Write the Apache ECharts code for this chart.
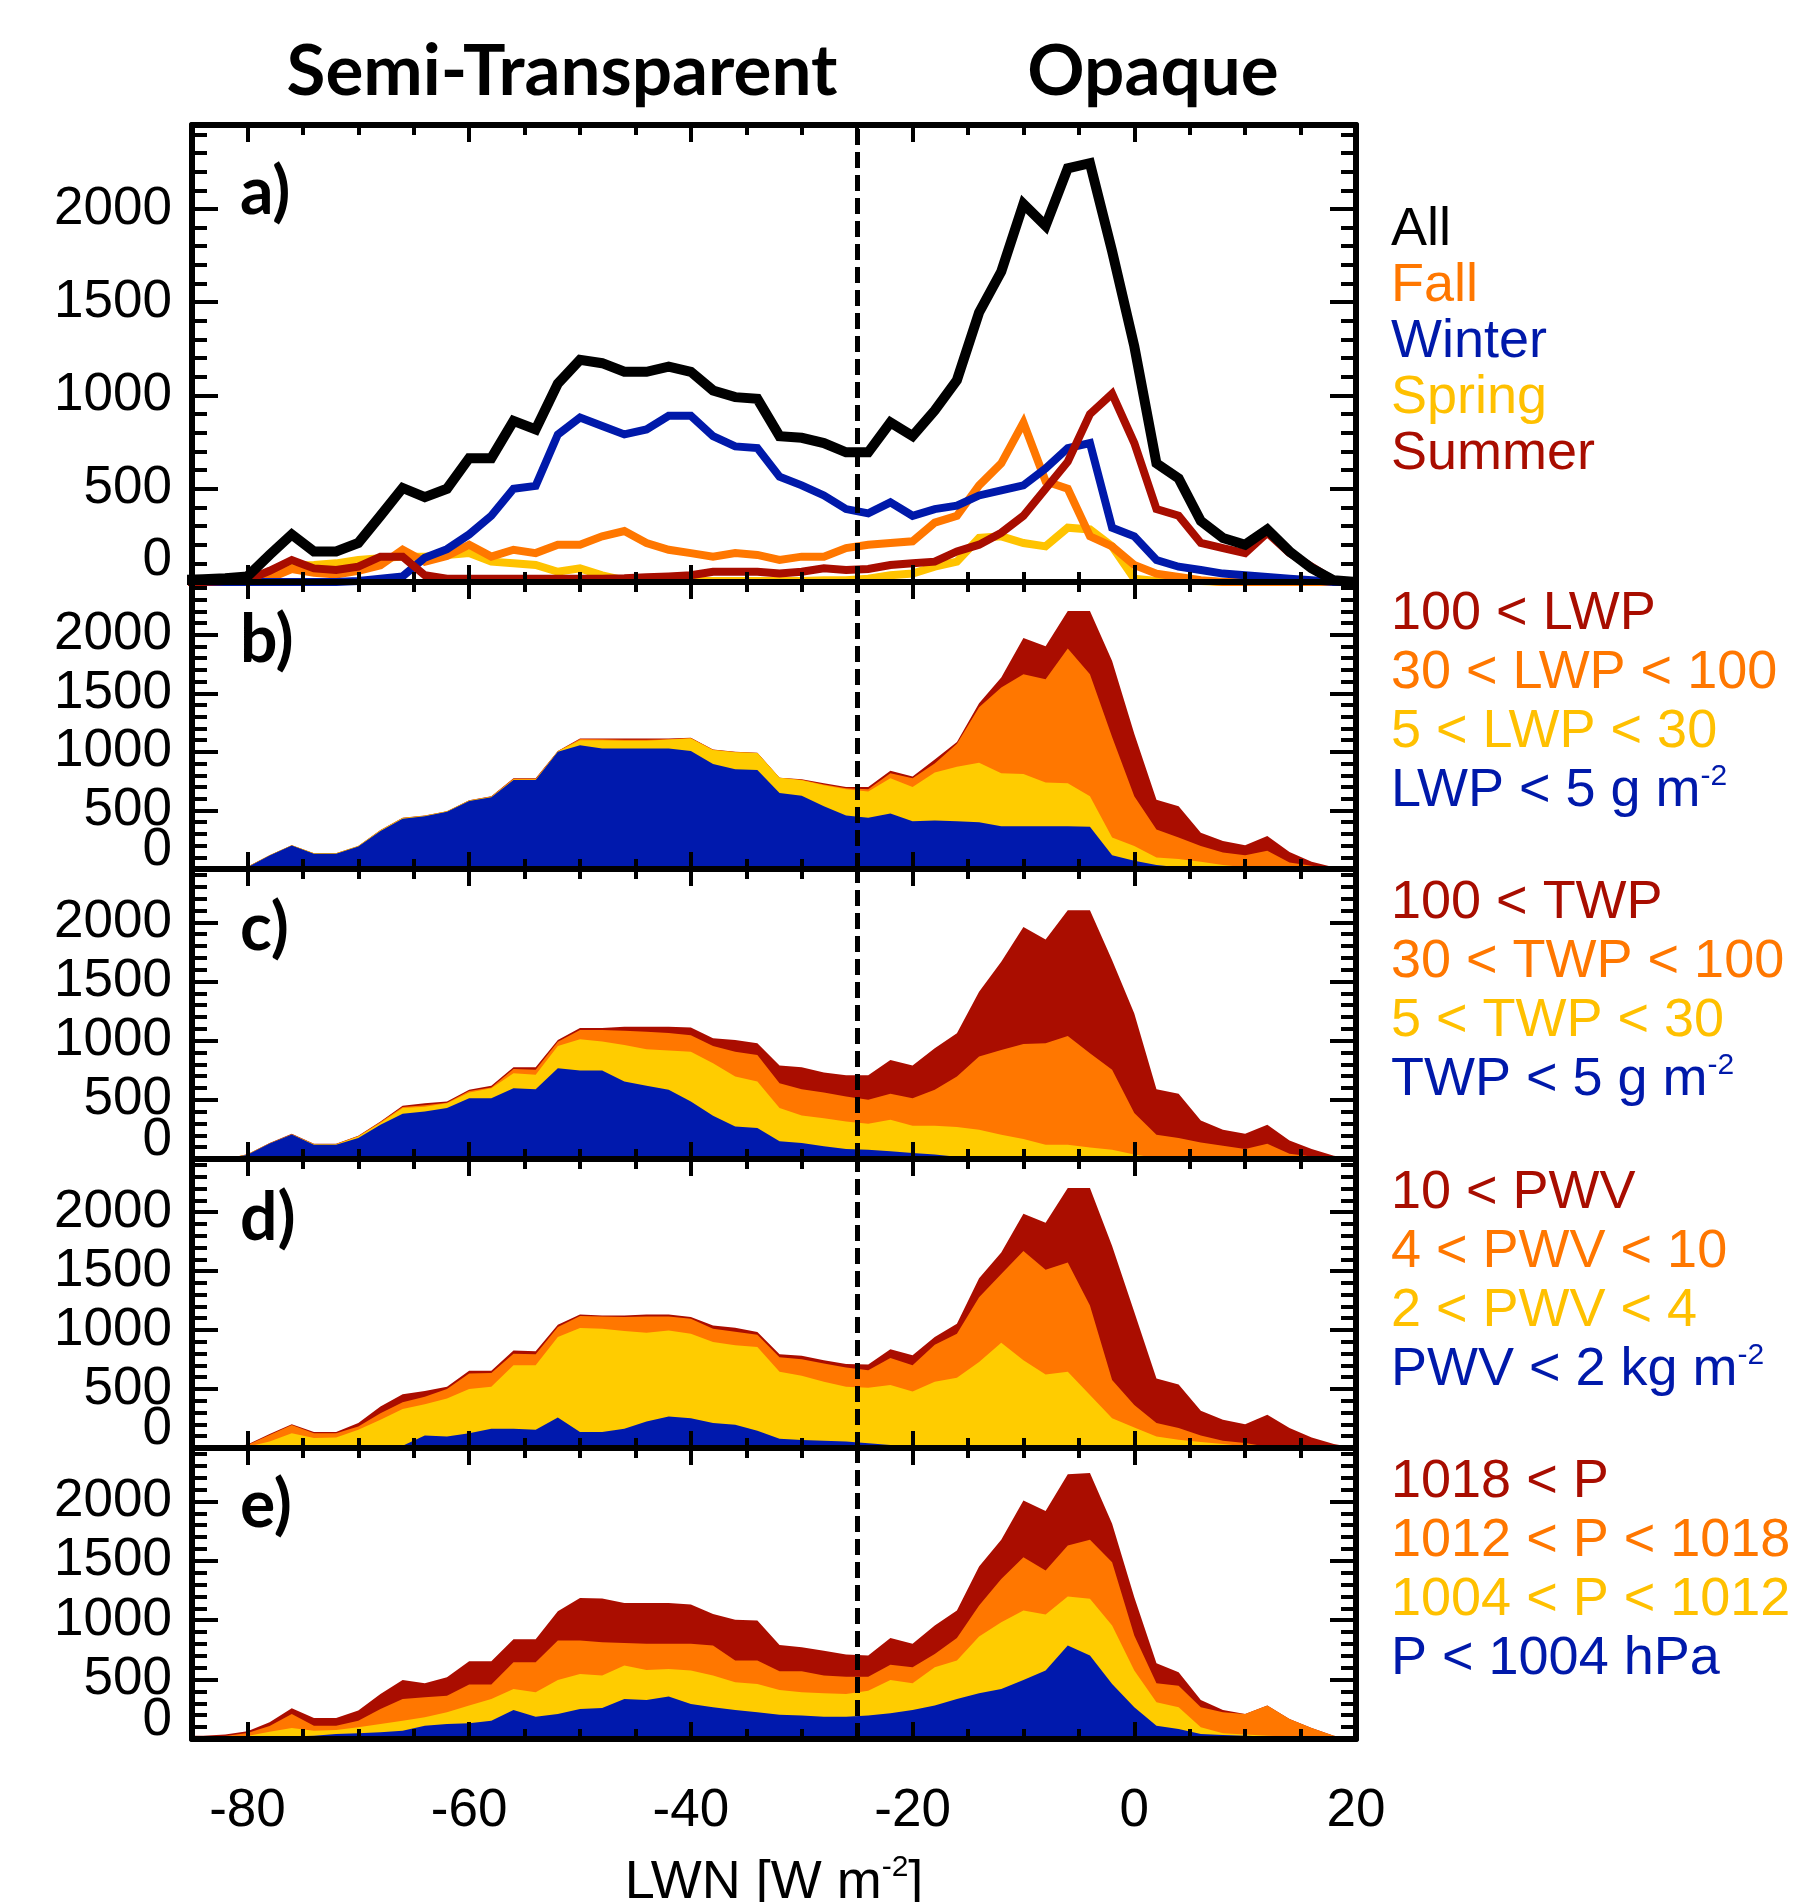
<!DOCTYPE html>
<html><head><meta charset="utf-8">
<script src="https://cdn.jsdelivr.net/npm/echarts@6/dist/echarts.min.js"></script>
<style>html,body{margin:0;padding:0;background:#fff}#c{width:1806px;height:1902px}</style>
</head><body><div id="c"></div>
<script>
// ---------- data (counts per 2 W m-2 LWN bin) ----------
const lwn = [-86,-84,-82,-80,-78,-76,-74,-72,-70,-68,-66,-64,-62,-60,-58,-56,-54,-52,-50,-48,
  -46,-44,-42,-40,-38,-36,-34,-32,-30,-28,-26,-24,-22,-20,-18,-16,-14,-12,-10,-8,
  -6,-4,-2,0,2,4,6,8,10,12,14,16,18,20];

// panel a: seasonal histograms
const allCounts = [10,15,20,30,145,255,164,164,209,355, 504,455,500,664,664,864,818,1064,1191,1173,
  1127,1127,1155,1127,1027,991,982,782,773,745, 695,695,855,782,920,1082,1445,1664,2027,1909,
  2218,2245,1773,1264,636,555,327,236,200,282, 164,73,9,0];
const fallCounts = [0,0,0,5,20,70,50,40,60,90, 173,109,140,200,136,173,155,200,200,245,
  273,209,173,155,136,155,145,118,136,136, 182,200,209,218,318,355,518,636,855,540,
  500,245,191,91,45,27,9,0,0,0, 0,0,0,0];
const winterCounts = [0,0,0,0,0,0,0,0,5,18, 30,130,176,255,355,500,515,791,882,836,
  791,818,891,891,782,727,718,564,518,464, 391,368,427,355,391,409,464,491,518,609,
  718,745,291,245,118,82,64,45,36,27, 18,9,0,0];
const springCounts = [0,0,0,5,40,90,91,100,118,127, 136,136,145,155,109,100,91,55,73,36,
  9,18,10,5,5,5,5,5,5,10, 10,18,36,45,82,109,236,245,209,191,
  291,282,191,18,5,5,5,0,0,0, 0,0,0,0];
const summerCounts = [0,0,5,10,60,118,73,64,82,136, 136,36,18,18,18,18,18,18,18,18,
  20,25,30,36,55,55,55,45,55,73, 64,70,91,100,109,164,200,264,355,500,
  645,900,1009,745,391,355,209,182,155,264, 155,82,9,0];

// panel b: cumulative counts (top of each LWP class, stacked from the bottom)
const lwpGt100Top = [0,0,0,20,118,203,135,135,197,332, 437,456,493,586,620,775,775,1008,1113,1113,
  1113,1113,1113,1121,1020,1000,992,780,766,732, 699,699,839,789,935,1085,1414,1634,1972,1901,
  2203,2203,1775,1155,592,535,310,239,203,282, 146,62,14,0];
const lwp30to100Top = [0,0,0,19,117,202,134,134,196,331, 436,455,492,585,618,770,770,1006,1110,1108,
  1104,1104,1108,1118,1018,998,990,779,762,722, 690,680,817,775,901,1070,1380,1549,1662,1620,
  1882,1662,1127,620,338,268,197,141,118,155, 56,28,5,0];
const lwp5to30Top = [0,0,0,18,117,202,134,134,196,330, 435,455,492,584,616,765,765,1005,1099,1099,
  1095,1095,1105,1115,1015,997,990,778,758,715, 680,662,775,699,823,873,907,817,811,738,
  732,620,268,197,99,85,62,34,14,5, 0,0,0,0];
const lwpLt5Top = [0,0,0,15,115,200,130,130,192,325, 430,450,488,580,612,760,760,1000,1056,1028,
  1028,1028,1028,1008,896,851,845,648,625,535, 456,437,473,408,414,408,400,366,366,366,
  366,361,118,70,34,14,0,0,0,0, 0,0,0,0];

// panel c: TWP classes
const twpGt100Top = [0,0,0,40,135,213,129,129,197,317, 449,472,486,584,618,775,775,1006,1107,1107,
  1118,1118,1118,1110,1020,1006,978,789,775,730, 708,708,837,789,935,1062,1413,1666,1961,1854,
  2101,2101,1680,1230,590,551,326,247,213,289, 157,84,28,0];
const twp30to100Top = [0,0,0,40,133,210,127,127,195,312, 440,455,475,575,605,760,755,990,1090,1090,
  1084,1076,1065,1045,955,907,879,640,590,562, 528,500,551,514,584,697,865,921,972,978,
  1039,893,753,388,205,177,140,112,84,129, 45,22,0,0];
const twp5to30Top = [0,0,0,38,132,208,125,125,190,305, 430,441,470,562,598,725,711,955,1011,992,
  963,927,916,907,809,697,654,430,368,345, 317,298,331,281,281,270,247,205,169,121,
  121,98,79,37,8,0,0,0,0,0, 0,0,0,0];
const twpLt5Top = [0,0,0,35,130,207,121,121,177,289, 382,402,430,514,514,598,590,767,747,747,
  654,618,584,486,365,275,261,149,135,107, 84,79,65,51,37,20,10,5,0,0,
  0,0,0,0,0,0,0,0,0,0, 0,0,0,0];

// panel d: PWV classes
const pwvGt10Top = [0,0,0,30,118,202,135,135,211,351, 455,483,520,654,654,826,820,1045,1132,1124,
  1124,1132,1132,1110,1039,1020,983,795,781,744, 713,708,837,787,941,1053,1438,1657,1986,1910,
  2205,2205,1713,1152,590,539,315,239,202,281, 169,90,34,0];
const pwv4to10Top = [0,0,0,25,110,195,125,125,183,295, 388,435,500,632,635,800,795,1025,1118,1115,
  1110,1115,1115,1095,1010,985,960,770,753,716, 683,660,764,702,876,969,1278,1475,1671,1511,
  1573,1208,576,365,211,169,107,62,42,10, 0,0,0,0];
const pwv2to4Top = [0,0,0,10,55,126,84,90,155,239, 331,370,420,500,520,702,702,941,1017,1011,
  992,978,997,969,899,871,857,646,612,562, 520,511,534,478,562,596,730,893,744,624,
  646,449,253,174,98,70,51,34,14,0, 0,0,0,0];
const pwvLt2Top = [0,0,0,0,0,0,0,0,0,0, 20,107,98,126,163,163,154,258,135,135,
  163,225,267,253,211,197,146,79,67,62, 56,40,25,15,10,10,10,10,20,15,
  5,0,0,0,0,0,0,0,0,0, 0,0,0,0];

// panel e: surface pressure classes
const pGt1018Top = [25,28,37,65,140,258,177,177,239,379, 497,469,520,654,654,840,840,1076,1188,1183,
  1146,1146,1146,1132,1053,1003,997,792,772,744, 711,702,851,801,955,1081,1452,1677,2008,1919,
  2228,2239,1812,1194,638,562,329,244,211,281, 169,93,28,0];
const p1012to1018Top = [20,20,25,50,110,211,112,112,154,253, 337,351,365,458,458,646,646,829,829,815,
  809,801,801,801,787,660,660,570,570,534, 525,525,626,604,716,851,1124,1348,1531,1419,
  1629,1677,1489,871,469,449,267,225,211,281, 169,93,28,0];
const p1004to1012Top = [10,10,12,25,60,93,70,76,98,126, 154,183,225,281,337,421,393,497,548,534,
  618,581,590,576,534,478,463,413,393,385, 379,407,497,469,604,660,862,983,1081,1048,
  1199,1180,955,576,309,267,98,48,37,28, 20,14,0,0];
const pLt1004Top = [0,2,2,2,8,20,28,42,48,56, 70,112,126,132,154,244,188,211,253,261,
  337,329,357,295,267,244,225,205,197,188, 188,197,216,244,281,337,385,421,497,576,
  787,702,463,267,112,84,42,34,28,20, 14,8,0,0];

// tick positions / labels
const xMinorTicks = [-80,-75,-70,-65,-60,-55,-50,-45,-40,-35,-30,-25,-20,-15,-10,-5,0,5,10,15];
const xMajorTicks = [-80,-60,-40,-20,0];
const xTickLabels = [-80,-60,-40,-20,0,20];
const yMajorTicks = [0,500,1000,1500,2000];
const yTickLabels = [500,1000,1500,2000];
const yZeroLabel = [0];
const yMinorTicks = [100,200,300,400,600,700,800,900,1100,1200,1300,1400,1600,1700,1800,1900,2100,2200,2300,2400];
const dividerLWN = -25;

// ---------- styling ----------
const RED = '#A80D00', ORANGE = '#FF7700', BLUE = '#0019AA';
const FONT = 'Liberation Sans';
const gridBase = {left:192, right:450, outerBoundsMode:'none', containLabel:false};
const grids = [
  Object.assign({top:125, height:457}, gridBase),
  Object.assign({top:582, height:287}, gridBase),
  Object.assign({top:869, height:290}, gridBase),
  Object.assign({top:1159, height:289}, gridBase),
  Object.assign({top:1448, height:291}, gridBase)
];
const xAxes = [], yAxes = [], series = [];
const tickLine = {color:'#000', width:4};
const labelFont = {fontSize:53, fontFamily:FONT, color:'#000'};
const plain = v => String(v);
grids.forEach((g, i) => {
  const last = i === grids.length - 1;
  const baseX = {type:'value', gridIndex:i, min:-85, max:20, z:10, splitLine:{show:false}};
  xAxes.push(Object.assign({}, baseX, {position:'bottom',
    axisLine:{show:true, onZero:false, lineStyle:{color:'#000', width:6}},
    axisTick:{show:true, inside:true, length:10, lineStyle:tickLine, customValues:xMinorTicks},
    axisLabel:Object.assign({show:last, customValues:xTickLabels, margin:46, formatter:plain,
      showMinLabel:true, showMaxLabel:true}, labelFont),
    name: last ? '{t|LWN [W m}{s|-2}{t|]}' : '', nameLocation:'middle', nameGap:114,
    nameTextStyle:{color:'#000', fontFamily:FONT, fontSize:54, rich:{
      t:{fontSize:54, fontFamily:FONT, color:'#000', lineHeight:60},
      s:{fontSize:30, fontFamily:FONT, color:'#000', lineHeight:12, verticalAlign:'top'}}}
  }));
  xAxes.push(Object.assign({}, baseX, {position:'bottom', axisLine:{show:false, onZero:false},
    axisTick:{show:true, inside:true, length:17, lineStyle:tickLine, customValues:xMajorTicks},
    axisLabel:{show:false}}));
  xAxes.push(Object.assign({}, baseX, {position:'top',
    axisLine:{show:true, onZero:false, lineStyle:{color:'#000', width:6}},
    axisTick:{show:true, inside:true, length:10, lineStyle:tickLine, customValues:xMinorTicks},
    axisLabel:{show:false}}));
  xAxes.push(Object.assign({}, baseX, {position:'top', axisLine:{show:false, onZero:false},
    axisTick:{show:true, inside:true, length:17, lineStyle:tickLine, customValues:xMajorTicks},
    axisLabel:{show:false}}));

  const baseY = {type:'value', gridIndex:i, min:0, max:2450, z:10, splitLine:{show:false}};
  const zeroPad = i === 0 ? 44 : 38;
  // left: major ticks + labels 500..2000
  yAxes.push(Object.assign({}, baseY, {position:'left',
    axisLine:{show:true, onZero:false, lineStyle:{color:'#000', width:6}},
    axisTick:{show:true, inside:true, length:26, lineStyle:tickLine, customValues:yMajorTicks},
    axisLabel:Object.assign({show:true, customValues:yTickLabels, margin:20, formatter:plain,
      showMinLabel:true, showMaxLabel:true}, labelFont)}));
  // left: minor ticks + the raised "0" label
  yAxes.push(Object.assign({}, baseY, {position:'left', axisLine:{show:false, onZero:false},
    axisTick:{show:true, inside:true, length:15, lineStyle:tickLine, customValues:yMinorTicks},
    axisLabel:Object.assign({show:true, customValues:yZeroLabel, margin:20, showMinLabel:true,
      formatter: v => '{z|' + v + '}',
      rich:{z:Object.assign({padding:[0,0,zeroPad,0]}, labelFont)}}, labelFont)}));
  yAxes.push(Object.assign({}, baseY, {position:'right',
    axisLine:{show:true, onZero:false, lineStyle:{color:'#000', width:6}},
    axisTick:{show:true, inside:true, length:26, lineStyle:tickLine, customValues:yMajorTicks},
    axisLabel:{show:false}}));
  yAxes.push(Object.assign({}, baseY, {position:'right', axisLine:{show:false, onZero:false},
    axisTick:{show:true, inside:true, length:15, lineStyle:tickLine, customValues:yMinorTicks},
    axisLabel:{show:false}}));

  // dashed divider between semi-transparent and opaque clouds
  series.push({type:'line', name:'divider'+i, xAxisIndex:4*i, yAxisIndex:4*i, data:[], z:1, silent:true,
    markLine:{silent:true, symbol:['none','none'], label:{show:false},
      lineStyle:{color:'#000', width:5, type:[16,7]}, data:[{xAxis:dividerLWN}]}});
});

const pts = arr => lwn.map((x, k) => [x, arr[k]]);
function lineSeries(name, arr, color, width) {
  return {type:'line', name, xAxisIndex:0, yAxisIndex:0, data:pts(arr), symbol:'none', z:3,
    lineStyle:{color, width, join:'miter'}, itemStyle:{color}, silent:true};
}
series.push(lineSeries('Spring', springCounts, '#FFC300', 8));
series.push(lineSeries('Fall', fallCounts, ORANGE, 8));
series.push(lineSeries('Winter', winterCounts, BLUE, 8));
series.push(lineSeries('Summer', summerCounts, RED, 8));
series.push(lineSeries('All', allCounts, '#000', 10));

function areaSeries(name, arr, color, gi) {
  return {type:'line', name, xAxisIndex:4*gi, yAxisIndex:4*gi, data:pts(arr), symbol:'none', z:3,
    lineStyle:{width:0}, itemStyle:{color}, areaStyle:{color, opacity:1}, silent:true};
}
const panels = [
  {gi:1, names:['100 < LWP','30 < LWP < 100','5 < LWP < 30','LWP < 5 g m-2'], arrs:[lwpGt100Top,lwp30to100Top,lwp5to30Top,lwpLt5Top]},
  {gi:2, names:['100 < TWP','30 < TWP < 100','5 < TWP < 30','TWP < 5 g m-2'], arrs:[twpGt100Top,twp30to100Top,twp5to30Top,twpLt5Top]},
  {gi:3, names:['10 < PWV','4 < PWV < 10','2 < PWV < 4','PWV < 2 kg m-2'], arrs:[pwvGt10Top,pwv4to10Top,pwv2to4Top,pwvLt2Top]},
  {gi:4, names:['1018 < P','1012 < P < 1018','1004 < P < 1012','P < 1004 hPa'], arrs:[pGt1018Top,p1012to1018Top,p1004to1012Top,pLt1004Top]}
];
const areaColors = ['#AA0D00', '#FF7700', '#FFCC00', '#0019AD'];
const legendColors = [RED, ORANGE, '#FFC000', BLUE];
panels.forEach(p => p.names.forEach((n, k) => series.push(areaSeries(n, p.arrs[k], areaColors[k], p.gi))));

function legendItem(name, color) {
  return {name, textStyle:{color, fontSize:54, fontFamily:FONT,
    rich:{sup:{color, fontSize:30, fontFamily:FONT, lineHeight:4, verticalAlign:'top'}}}};
}
const legendBase = {orient:'vertical', left:1386, itemGap:0, itemWidth:0, itemHeight:0, icon:'none',
  selectedMode:false, padding:0,
  formatter: name => name.replace(/ m-2$/, ' m{sup|-2}')};
const legends = [
  Object.assign({}, legendBase, {top:202, textStyle:{fontSize:54, fontFamily:FONT, lineHeight:56},
    data:[legendItem('All','#000'), legendItem('Fall',ORANGE), legendItem('Winter',BLUE),
          legendItem('Spring','#FFC000'), legendItem('Summer',RED)]})
];
const legendTops = [585, 874, 1164, 1453];
panels.forEach((p, j) => legends.push(Object.assign({}, legendBase, {top:legendTops[j],
  textStyle:{fontSize:54, fontFamily:FONT, lineHeight:59},
  data:p.names.map((n, k) => legendItem(n, legendColors[k]))})));

const boldText = (text, x, y, align, size) => ({type:'text', x, y, silent:true,
  style:{text, fill:'#000', fontSize:size, fontWeight:'bold', fontFamily:'Lato', align, verticalAlign:'middle'}});

const option = {
  animation:false,
  backgroundColor:'#fff',
  grid:grids,
  xAxis:xAxes,
  yAxis:yAxes,
  legend:legends,
  series,
  graphic:[
    boldText('Semi-Transparent', 562, 72, 'center', 71),
    boldText('Opaque', 1153, 72, 'center', 71),
    boldText('a)', 240, 193, 'left', 66),
    boldText('b)', 240, 641, 'left', 66),
    boldText('c)', 240, 929, 'left', 66),
    boldText('d)', 240, 1219, 'left', 66),
    boldText('e)', 240, 1506, 'left', 66)
  ]
};
const chart = echarts.init(document.getElementById('c'), null, {renderer:'canvas', width:1806, height:1902});
chart.setOption(option);
</script></body></html>
